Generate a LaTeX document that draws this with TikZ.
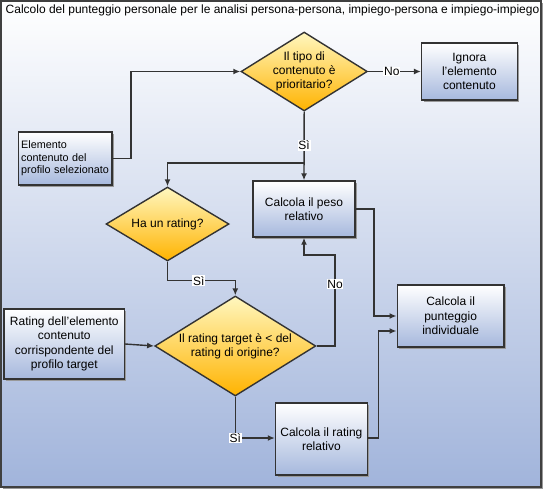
\documentclass[tikz,border=0pt]{standalone}
\usepackage{fontspec}
\setmainfont{Liberation Sans}
\usepackage{tikz}
\usetikzlibrary{arrows.meta, shapes.geometric, shadows}
\definecolor{boxbottom}{RGB}{166,184,221}
\definecolor{bgbottom}{RGB}{161,180,219}
\definecolor{dtop}{RGB}{255,247,191}
\definecolor{dbottom}{RGB}{255,179,0}
\definecolor{linea}{RGB}{51,51,51}
\begin{document}
\begin{tikzpicture}[x=1pt, y=-1pt, >={Latex[length=7pt,width=6pt]},
                    line width=1.4pt, draw=linea,
                    font=\fontsize{12}{14.3}\selectfont]
\tikzstyle{process}=[shape=rectangle, draw=linea, line width=1.4pt,
                    top color=white, bottom color=boxbottom, align=center,
                    inner sep=1pt, drop shadow={shadow xshift=2pt,
                    shadow yshift=-2pt, fill=black!40, opacity=1}]
\tikzstyle{decision}=[shape=diamond, draw=linea, line width=1.4pt,
                    top color=dtop, bottom color=dbottom, align=center,
                    aspect=1.6, inner sep=0pt]
\tikzstyle{lbl}=[fill=white, inner sep=0.8pt, swap]
  \useasboundingbox (0,0) rectangle (545,491);
  % cornice
  \draw[draw=black!75, top color=white, bottom color=bgbottom,
        drop shadow={shadow xshift=2pt, shadow yshift=-2pt, fill=black!40, opacity=1}]
        (1,1) rectangle (541,487);
  \node[anchor=west, inner sep=0pt] (titolo) at (5,10)
        {Calcolo del punteggio personale per le analisi persona-persona, impiego-persona e impiego-impiego};
  % nodi
  \node[decision, minimum width=116, minimum height=73] (tipo) at (304.2,71.5)
        {Il tipo di\\contenuto è\\prioritario?};
  \node[process, minimum width=95.6, minimum height=57] (ignora) at (469.4,71.5)
        {Ignora\\l'elemento\\contenuto};
  \node[process, minimum width=93.6, minimum height=53, align=left,
        text width=88, font=\fontsize{10.8}{12.5}\selectfont] (elemento) at (65.2,158.5)
        {Elemento\\contenuto del\\profilo selezionato};
  \node[process, minimum width=102, minimum height=56] (peso) at (304,209)
        {Calcola il peso\\relativo};
  \node[decision, minimum width=123, minimum height=74] (ha) at (167.5,224)
        {Ha un rating?};
  \node[decision, minimum width=161, minimum height=100] (target) at (235.3,346)
        {Il rating target è < del\\rating di origine?};
  \node[process, minimum width=120.3, minimum height=70] (profilo) at (64.3,344)
        {Rating dell'elemento\\contenuto\\corrispondente del\\profilo target};
  \node[process, minimum width=91.8, minimum height=72] (relativo) at (321.4,439)
        {Calcola il rating\\relativo};
  \node[process, minimum width=106.8, minimum height=62] (punteggio) at (450.6,316)
        {Calcola il\\punteggio\\individuale};
  \coordinate (bivio) at (304.2,163);
  % connettori
  \draw[->] (elemento.east) -- ++(18.4,0) |- (tipo.west);
  \path[->] (tipo) edge node[lbl, pos=0.45] {No} (ignora);
  \draw[->] (tipo.south) -- (peso.north) node[lbl, pos=0.49] {Sì};
  \draw[->] (bivio) -| (ha.north);
  \draw[->] (ha.south) -- ++(0,19) -| (target.north) node[lbl, pos=0.23] {Sì};
  \draw[->] (profilo.east) -- (target.west);
  \draw[->] (target.east) -| ++(18.5,-91) node[lbl, pos=0.84] {No} -| (peso.south);
  \draw[->] (target.south) |- ([yshift=1pt]relativo.west) node[lbl, pos=0.5] {Sì};
  \draw[->] (peso.east) -- ++(18.2,0) |- (punteggio.west);
  \draw[->] ([yshift=1pt]relativo.east) -- ++(10.7,0) |- ([yshift=-15pt]punteggio.west);
\end{tikzpicture}
\end{document}
